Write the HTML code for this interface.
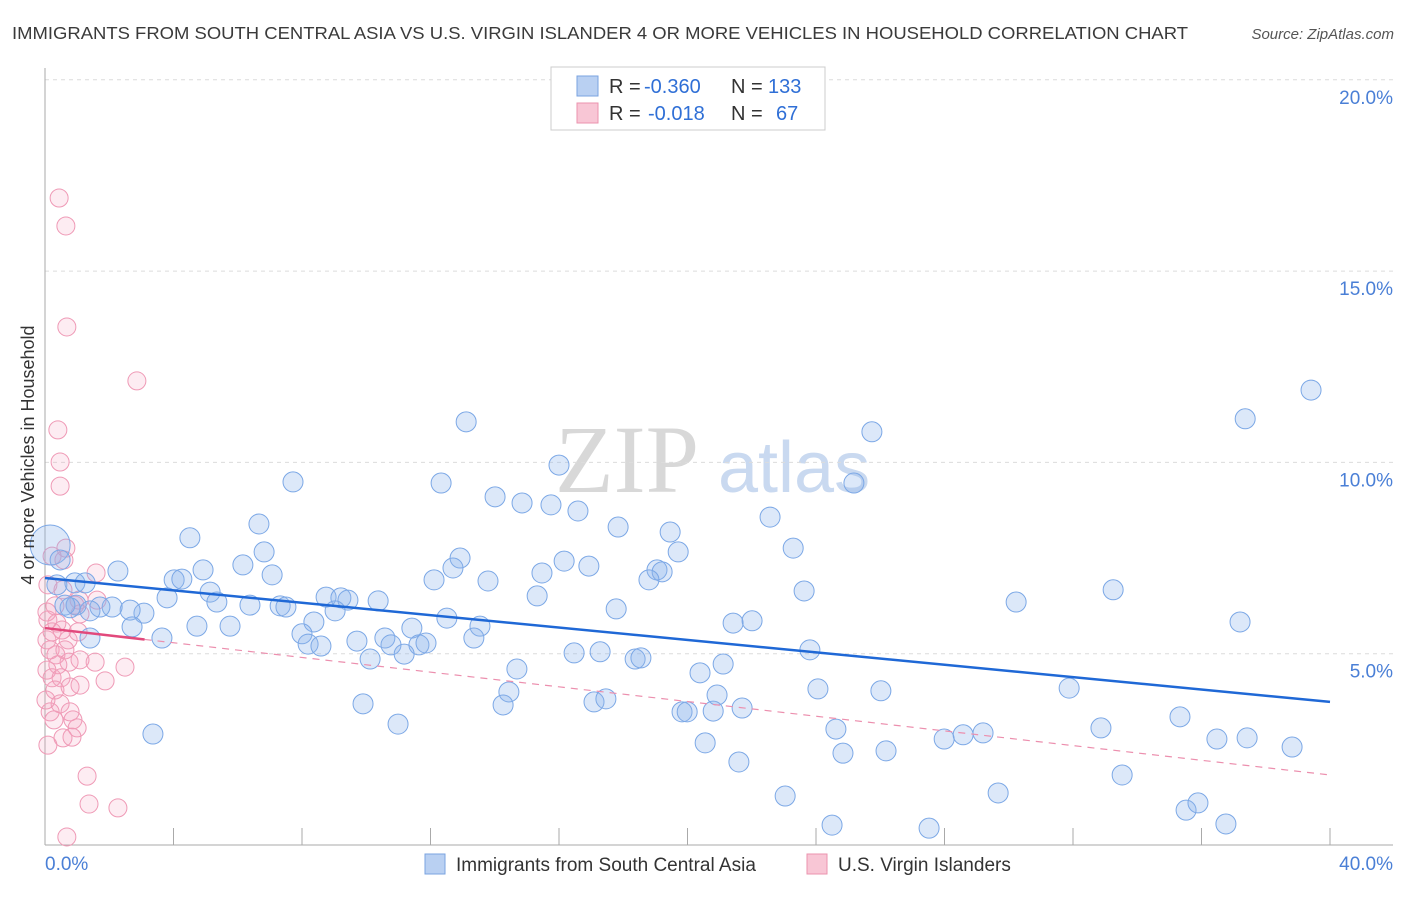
<!DOCTYPE html>
<html><head><meta charset="utf-8"><style>
body{margin:0;background:#fff;font-family:"Liberation Sans",sans-serif;}
svg text{font-family:"Liberation Sans",sans-serif;}
</style></head><body>
<svg id="chart" width="1406" height="892" xmlns="http://www.w3.org/2000/svg">
<text x="12" y="39" font-size="17.5" fill="#3a3a3a" textLength="1176" lengthAdjust="spacingAndGlyphs">IMMIGRANTS FROM SOUTH CENTRAL ASIA VS U.S. VIRGIN ISLANDER 4 OR MORE VEHICLES IN HOUSEHOLD CORRELATION CHART</text>
<text x="1394" y="39" font-size="15" fill="#555" text-anchor="end" font-style="italic">Source: ZipAtlas.com</text>
<g>
<text x="555" y="492" font-size="96" fill="#d8d8d8" font-family="Liberation Serif,serif" style="font-family:'Liberation Serif',serif">ZIP</text>
<text x="718" y="492" font-size="72" fill="#c9d9f0">atlas</text>
</g>
<g id="grid"></g>
<g id="axes"></g>
<g id="pinkpts"></g>
<g id="bluepts"></g>
<g id="trends"></g>
<text transform="translate(34,455) rotate(-90)" font-size="18" fill="#333" text-anchor="middle">4 or more Vehicles in Household</text>
<g>
<rect x="551" y="67" width="274" height="63" fill="#fff" stroke="#ccc"/>
<rect x="577" y="76" width="21" height="20" fill="#b9d0f2" stroke="#7aa3e0"/>
<rect x="577" y="103" width="21" height="20" fill="#f8c6d5" stroke="#eb93ae"/>
<text x="609" y="93" font-size="20" fill="#333">R =</text>
<text x="644" y="93" font-size="20" fill="#2f6fd6">-0.360</text>
<text x="731" y="93" font-size="20" fill="#333">N =</text>
<text x="768" y="93" font-size="20" fill="#2f6fd6">133</text>
<text x="609" y="120" font-size="20" fill="#333">R =</text>
<text x="648" y="120" font-size="20" fill="#2f6fd6">-0.018</text>
<text x="731" y="120" font-size="20" fill="#333">N =</text>
<text x="776" y="120" font-size="20" fill="#2f6fd6">67</text>
</g>
<g>
<rect x="425" y="854" width="20" height="20" fill="#b9d0f2" stroke="#7aa3e0"/>
<text x="456" y="871" font-size="19" fill="#333">Immigrants from South Central Asia</text>
<rect x="807" y="854" width="20" height="20" fill="#f8c6d5" stroke="#eb93ae"/>
<text x="838" y="871" font-size="19" fill="#333">U.S. Virgin Islanders</text>
</g>
</svg>
<script>
const blueX=[4.51,7.72,6.66,13.11,12.33,14.01,14.85,15.75,16.59,16.00,17.84,19.46,19.71,22.57,23.29,25.74,25.18,37.36,39.41,6.82,6.16,7.07,4.92,4.02,4.26,2.27,12.92,12.70,12.11,13.79,15.47,16.16,16.93,19.05,19.21,18.80,15.32,17.78,23.63,33.25,30.23,37.20,5.14,5.35,3.80,6.38,7.32,7.50,8.75,9.21,9.43,10.37,9.03,8.37,12.51,13.54,5.76,4.73,3.64,3.08,2.65,2.09,1.71,1.40,0.97,0.78,2.71,8.00,8.19,8.59,9.71,10.58,10.77,11.42,11.64,11.86,11.18,10.12,13.35,16.47,17.28,18.37,18.55,21.42,22.01,23.81,14.69,20.39,21.11,14.44,14.26,9.90,10.99,17.09,17.46,19.83,19.99,20.80,20.92,21.70,24.06,26.02,31.88,35.33,32.87,24.62,27.99,28.58,29.20,36.48,37.42,38.82,20.55,21.60,24.84,26.18,33.53,23.04,29.67,35.52,35.89,24.50,27.52,36.76,3.36,0.16,0.47,0.37,0.93,1.25,1.40,0.62];
const blueY=[8.03,9.49,8.39,11.06,9.46,9.10,8.94,8.89,8.73,9.93,8.31,8.18,7.66,8.57,7.76,10.80,9.46,11.14,11.89,7.66,7.32,7.06,7.19,6.93,6.95,7.16,7.50,7.24,6.93,6.90,7.11,7.42,7.29,7.19,7.14,6.93,6.51,6.17,6.64,6.67,6.35,5.83,6.61,6.35,6.46,6.27,6.25,6.22,6.48,6.46,6.40,6.38,6.12,5.83,5.93,5.72,5.72,5.72,5.41,6.06,6.14,6.22,6.22,6.12,6.27,6.20,5.70,5.52,5.25,5.20,5.33,5.41,5.23,5.67,5.23,5.28,4.99,4.86,5.41,5.02,5.05,4.86,4.89,5.80,5.86,5.10,4.60,4.50,4.73,4.00,3.66,3.69,3.16,3.74,3.82,3.48,3.48,3.50,3.92,3.58,4.08,4.03,4.10,3.35,3.06,3.03,2.77,2.88,2.93,2.77,2.80,2.56,2.67,2.17,2.40,2.46,1.83,1.28,1.36,0.91,1.10,0.52,0.44,0.55,2.90,7.84,7.45,6.80,6.85,6.85,5.41,6.27];
const pinkX=[0.44,0.65,0.68,2.86,0.40,0.47,0.47,0.22,0.59,0.65,1.59,0.09,0.56,0.31,0.93,1.06,0.06,0.09,0.37,0.72,1.03,0.16,0.34,0.62,0.75,0.40,0.06,0.22,0.50,0.31,0.78,1.09,1.56,2.49,1.87,0.16,0.47,0.78,0.87,1.00,0.28,0.09,0.56,0.84,1.31,1.37,2.27,0.68,0.06,0.22,0.53,1.09,1.62,1.09,0.03];
const pinkY=[16.91,16.18,13.54,12.13,10.85,10.01,9.38,7.55,7.45,7.76,7.11,6.80,6.67,6.25,6.27,6.40,6.09,5.88,5.80,5.36,5.57,5.10,4.97,5.10,4.78,4.71,4.57,4.37,4.37,4.05,4.13,4.18,4.78,4.65,4.29,3.48,3.69,3.48,3.27,3.06,3.27,2.61,2.80,2.82,1.80,1.07,0.97,0.21,5.36,5.57,5.62,6.04,6.40,4.84,3.79];
const yTicks=[5,10,15,20];
const yTickLabels=["5.0%","10.0%","15.0%","20.0%"];
const xTickVals=[0,4,8,12,16,20,24,28,32,36,40];
const blueTrend=[6.98,3.74];
const pinkTrend=[5.67,1.83];
const pinkSolidEnd=3.1;

const NS="http://www.w3.org/2000/svg";
const X=v=>45+v/40*1285;
const Y=v=>845-v/5*191.3;
function mk(tag,attrs,parent){const e=document.createElementNS(NS,tag);for(const k in attrs)e.setAttribute(k,attrs[k]);document.getElementById(parent).appendChild(e);return e;}

yTicks.forEach((t,i)=>{
  const g=mk('line',{x1:45,x2:1393,y1:Y(t),y2:Y(t),stroke:'#dcdcdc','stroke-dasharray':'4,4'},'grid');
  
  
  const l=mk('text',{x:1393,y:Y(t)+24,'font-size':19,fill:'#4a7fd6','text-anchor':'end'},'axes');
  l.textContent=yTickLabels[i];
  
  
});
const ax=mk('line',{x1:45,x2:45,y1:68,y2:845,stroke:'#aaa'},'axes');


const bx=mk('line',{x1:45,x2:1393,y1:845,y2:845,stroke:'#aaa'},'axes');


xTickVals.forEach(t=>{
  const tk=mk('line',{x1:X(t),x2:X(t),y1:828,y2:845,stroke:'#aaa'},'axes');
  
  
});
const xl0=mk('text',{x:45,y:870,'font-size':19,fill:'#4a7fd6'},'axes');xl0.textContent='0.0%';


const xl1=mk('text',{x:1393,y:870,'font-size':19,fill:'#4a7fd6','text-anchor':'end'},'axes');xl1.textContent='40.0%';



pinkX.forEach((v,i)=>{
  const c=mk('circle',{cx:X(v),cy:Y(pinkY[i]),r:9,fill:'rgba(244,160,188,0.2)',stroke:'#ef9ab6','stroke-width':1},'pinkpts');
  
  
});
blueX.forEach((v,i)=>{
  const c=mk('circle',{cx:X(v),cy:Y(blueY[i]),r:i==blueX.length-7?20:10,fill:'rgba(140,180,235,0.3)',stroke:'#7ca8e6','stroke-width':1},'bluepts');
  
  
});
const bt=mk('line',{x1:X(0),y1:Y(blueTrend[0]),x2:X(40),y2:Y(blueTrend[1]),stroke:'#1f68d6','stroke-width':2.5},'trends');


const pAt=x=>pinkTrend[0]+(pinkTrend[1]-pinkTrend[0])*x/40;
const pd=mk('line',{x1:X(pinkSolidEnd),y1:Y(pAt(pinkSolidEnd)),x2:X(40),y2:Y(pinkTrend[1]),stroke:'#ec8fae','stroke-width':1.2,'stroke-dasharray':'7,6'},'trends');


const ps=mk('line',{x1:X(0),y1:Y(pinkTrend[0]),x2:X(pinkSolidEnd),y2:Y(pAt(pinkSolidEnd)),stroke:'#e2497c','stroke-width':2.5},'trends');


</script>
</body></html>
